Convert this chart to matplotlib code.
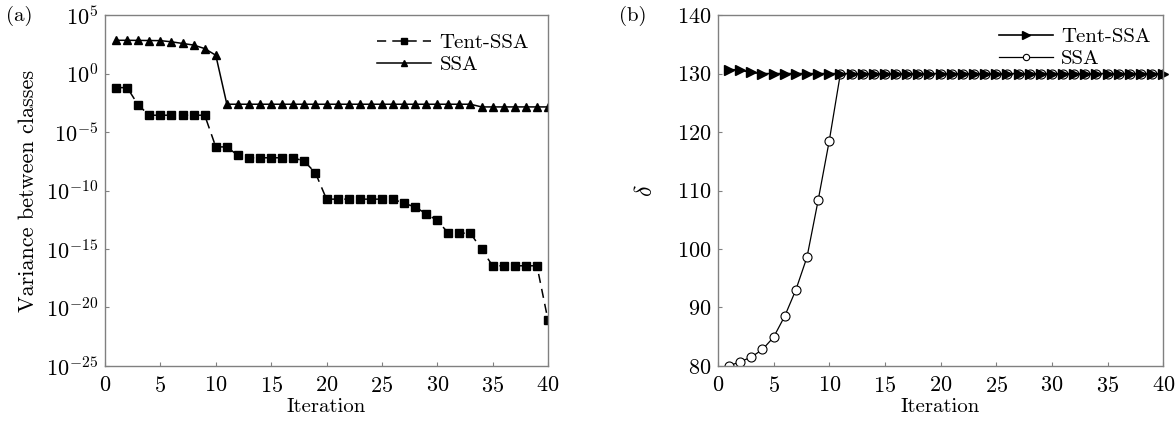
import numpy as np
import matplotlib.pyplot as plt

# --- settings ---
plt.rcParams['font.family'] = ['cmr10', 'DejaVu Serif']
plt.rcParams['mathtext.fontset'] = 'cm'
plt.rcParams['axes.formatter.use_mathtext'] = True
plt.rcParams['font.size'] = 14

# --- data ---
iteration = np.arange(1, 41)

# (a) variance between classes, log10 values
tent_var_log = [-1.2, -1.2, -2.7, -3.56, -3.56, -3.56, -3.56, -3.56, -3.56, -6.27,
                -6.27, -7.0, -7.2, -7.2, -7.2, -7.2, -7.2, -7.5, -8.5, -10.74,
                -10.74, -10.74, -10.74, -10.74, -10.74, -10.74, -11.1, -11.4, -12.0, -12.56,
                -13.65, -13.65, -13.65, -15.04, -16.44, -16.44, -16.44, -16.44, -16.44, -21.1]
ssa_var_log = [2.85, 2.85, 2.84, 2.83, 2.82, 2.72, 2.58, 2.44, 2.14, 1.57,
               -2.62, -2.62, -2.62, -2.62, -2.62, -2.62, -2.62, -2.62, -2.62, -2.62,
               -2.62, -2.62, -2.62, -2.62, -2.62, -2.62, -2.62, -2.62, -2.62, -2.62,
               -2.62, -2.62, -2.62, -2.85, -2.85, -2.85, -2.85, -2.85, -2.85, -2.85]

# (b) threshold delta
tent_delta = [130.7, 130.6, 130.2] + [130.0] * 37
ssa_delta = [80.0, 80.7, 81.5, 82.8, 84.9, 88.5, 93.0, 98.6, 108.3, 118.5] + [130.0] * 30

tent_var = 10.0 ** np.array(tent_var_log)
ssa_var = 10.0 ** np.array(ssa_var_log)

fig = plt.figure(figsize=(11.75, 4.21), dpi=100)
ax1 = fig.add_axes([0.0894, 0.131, 0.377, 0.833])
ax2 = fig.add_axes([0.611, 0.131, 0.379, 0.833])

spine_color = '#808080'

# --- (a) ---
ax1.plot(iteration, tent_var, color='black', lw=1.1, dashes=(6, 4), marker='s', ms=5.2,
         label='Tent-SSA')
ax1.plot(iteration, ssa_var, '-', color='black', lw=1.1, marker='^', ms=6, label='SSA')
ax1.set_yscale('log')
ax1.set_ylim(1e-25, 1e5)
ax1.set_yticks([10.0 ** k for k in range(-25, 6, 5)])
ax1.minorticks_off()
ax1.set_xlim(0, 40)
ax1.set_xticks(range(0, 41, 5))
ax1.set_xlabel('Iteration', fontsize=15, labelpad=2)
ax1.set_ylabel('Variance between classes', fontsize=16, labelpad=6)
ax1.legend(loc='upper right', frameon=False, markerscale=0.8, handlelength=2.6,
           fontsize=15, borderaxespad=0.5, labelspacing=0.15, handletextpad=0.4)

# --- (b) ---
ax2.plot(iteration, ssa_delta, '-', color='black', lw=0.9, marker='o', ms=6.5,
         markerfacecolor='white', markeredgewidth=0.8, label='SSA')
ax2.plot(iteration, tent_delta, '-', color='black', lw=1.2, marker='>', ms=7.5,
         label='Tent-SSA', clip_on=False)
ax2.set_ylim(80, 140)
ax2.set_yticks(range(80, 141, 10))
ax2.set_xlim(0, 40)
ax2.set_xticks(range(0, 41, 5))
ax2.set_xlabel('Iteration', fontsize=15, labelpad=2)
ax2.set_ylabel(r'$\delta$', fontsize=17, labelpad=14)
handles, labels = ax2.get_legend_handles_labels()
ax2.legend(handles[::-1], labels[::-1], loc='upper right', frameon=False, markerscale=0.7,
           handlelength=2.6, fontsize=15, borderaxespad=0.2, labelspacing=0.15,
           handletextpad=0.4)

for ax in (ax1, ax2):
    for sp in ax.spines.values():
        sp.set_color(spine_color)
        sp.set_linewidth(1.0)
    ax.tick_params(direction='in', length=3, width=0.8, color=spine_color, labelsize=16)
    ax.tick_params(axis='x', pad=7)
    ax.tick_params(axis='y', pad=5)

fig.text(0.005, 0.985, '(a)', fontsize=15, va='top')
fig.text(0.527, 0.985, '(b)', fontsize=15, va='top')

fig.savefig('out.png', dpi=100)
